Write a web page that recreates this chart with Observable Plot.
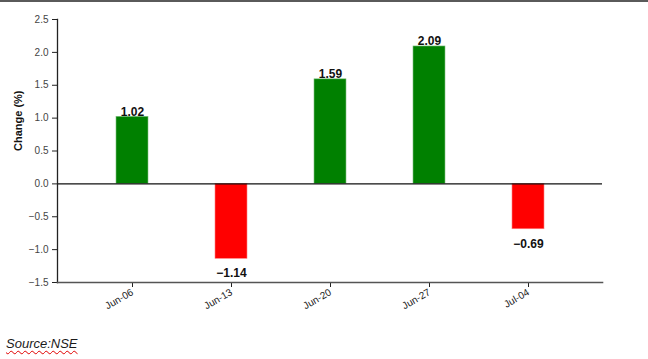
<!DOCTYPE html>
<html>
<head>
<meta charset="utf-8">
<script src="https://cdn.jsdelivr.net/npm/d3@7"></script>
<script src="https://cdn.jsdelivr.net/npm/@observablehq/plot@0.6"></script>
<style>
  html, body { margin: 0; padding: 0; background: #fff; width: 648px; height: 359px; overflow: hidden; position: relative; }
  #topline { position: absolute; left: 0; top: 0; width: 648px; height: 2px; background: #5a5a5a; }
  #chart { position: absolute; left: 0; top: 0; }
  #caption { position: absolute; left: 6px; top: 336px; font-family: "Liberation Sans", Arial, sans-serif; font-style: italic; font-size: 13px; color: #1a1a1a; text-decoration: underline wavy #e00000; text-decoration-thickness: 1px; text-underline-offset: 2px; }
</style>
</head>
<body>
<div id="chart"></div>
<div id="topline"></div>
<div id="caption">Source:NSE</div>
<script>
const dates = ["Jun-06", "Jun-13", "Jun-20", "Jun-27", "Jul-04"];
const changes = [1.02, -1.14, 1.59, 2.09, -0.69];
const yTicks = [-1.5, -1.0, -0.5, 0.0, 0.5, 1.0, 1.5, 2.0, 2.5];

const data = dates.map((d, i) => ({date: d, value: changes[i]}));
const fmt = d3.format(".2f");

const chart = Plot.plot({
  width: 648,
  height: 318,
  marginLeft: 57,
  marginRight: 46,
  marginTop: 19,
  marginBottom: 36,
  style: {fontFamily: "'Liberation Sans', Arial, sans-serif", background: "transparent"},
  x: {domain: dates, paddingInner: 0.68, paddingOuter: 0.58, label: null},
  y: {domain: [-1.5, 2.5], label: null},
  marks: [
    Plot.barY(data, {x: "date", y: "value", fill: d => d.value >= 0 ? "#008000" : "#ff0000", stroke: d => d.value >= 0 ? "#7fc07f" : "#ff8080", strokeWidth: 0.6}),
    Plot.ruleY([0], {stroke: "#111", strokeWidth: 1.2}),
    Plot.axisY({ticks: yTicks, tickFormat: d3.format(".1f"), tickSize: 5, fontSize: 10, fill: "#444", stroke: "#222", label: null}),
    Plot.axisX({tickRotate: -30, tickSize: 5, fontSize: 10, fill: "#222", stroke: "#222", label: null, tickPadding: 4}),
    Plot.frame({anchor: "left", stroke: "#222", strokeWidth: 1.3}),
    Plot.frame({anchor: "bottom", stroke: "#555", strokeWidth: 1.6}),
    Plot.text(data, {x: "date", y: "value", text: d => fmt(d.value), dy: -1,
      lineAnchor: "bottom", fontWeight: "bold", fontSize: 12, fill: "#111",
      filter: d => d.value >= 0}),
    Plot.text(data, {x: "date", y: "value", text: d => fmt(d.value).replace("-", "\u2212"), dy: 10,
      lineAnchor: "top", fontWeight: "bold", fontSize: 12, fill: "#111",
      filter: d => d.value < 0}),
    Plot.text(["Change (%)"], {frameAnchor: "left", dx: -39, rotate: -90, fontWeight: "bold", fontSize: 11, fill: "#111"})
  ]
});
document.getElementById("chart").appendChild(chart);
</script>
</body>
</html>
